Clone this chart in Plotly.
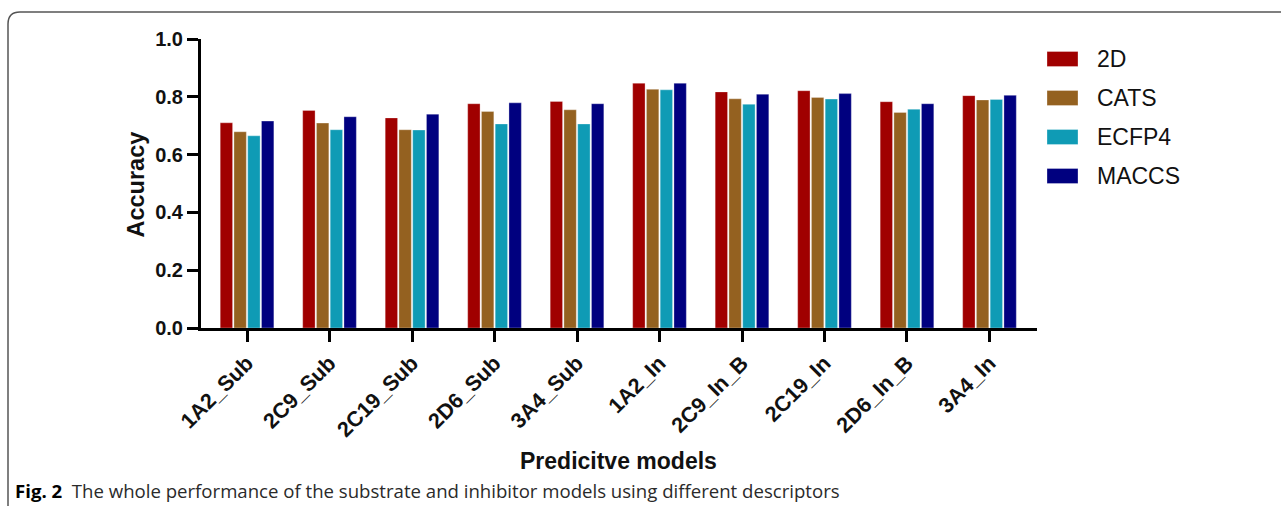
import plotly.graph_objects as go

categories = ["1A2_Sub", "2C9_Sub", "2C19_Sub", "2D6_Sub", "3A4_Sub",
              "1A2_In", "2C9_In_B", "2C19_In", "2D6_In_B", "3A4_In"]
series_names = ["2D", "CATS", "ECFP4", "MACCS"]
acc_2d = [0.710, 0.753, 0.727, 0.776, 0.784, 0.847, 0.817, 0.821, 0.783, 0.804]
acc_cats = [0.679, 0.709, 0.686, 0.749, 0.755, 0.826, 0.793, 0.798, 0.746, 0.789]
acc_ecfp4 = [0.665, 0.686, 0.685, 0.706, 0.706, 0.824, 0.774, 0.792, 0.757, 0.791]
acc_maccs = [0.716, 0.731, 0.740, 0.779, 0.776, 0.847, 0.809, 0.811, 0.776, 0.805]
series_values = [acc_2d, acc_cats, acc_ecfp4, acc_maccs]
colors = ["#A00000", "#946120", "#0F9BB5", "#00007F"]
y_ticks = [0.0, 0.2, 0.4, 0.6, 0.8, 1.0]

W, H = 1281, 506
L, R, T, B = 201, 1037, 39, 328


def px(X):
    return (X - L) / (R - L)


def py(Y):
    return (B - Y) / (B - T)


fig = go.Figure()
for name, vals, col in zip(series_names, series_values, colors):
    fig.add_trace(go.Bar(
        x=categories, y=vals, name=name,
        marker=dict(color=col, line=dict(color="rgba(255,255,255,0.5)", width=0.6)),
        showlegend=False,
    ))

shapes = []
annotations = []
FONT = "Liberation Sans, Arial, sans-serif"

# custom legend
row_y = [59, 98, 137, 176]
for name, col, ry in zip(series_names, colors, row_y):
    shapes.append(dict(type="rect", xref="paper", yref="paper",
                       x0=px(1047), x1=px(1078), y0=py(ry + 7.5), y1=py(ry - 7.5),
                       fillcolor=col, line=dict(width=0.5, color="rgba(255,255,255,0.6)")))
    annotations.append(dict(text=name, xref="paper", yref="paper", x=px(1095), y=py(ry),
                            xanchor="left", yanchor="middle", showarrow=False,
                            font=dict(family=FONT, size=23, color="#111")))

# frame with rounded top-left corner
x0, yt = px(8), py(12)
yb, xr = py(506), px(1281)
rx, ry_ = 12 / (R - L), 12 / (B - T)
shapes.append(dict(type="path", xref="paper", yref="paper",
                   path=f"M {x0},{yb} L {x0},{yt - ry_} Q {x0},{yt} {x0 + rx},{yt} L {xr},{yt}",
                   line=dict(color="#555555", width=1.5)))

annotations.append(dict(text="<b>Accuracy</b>", xref="paper", yref="paper",
                        x=px(135), y=py(184.5), textangle=-90, showarrow=False,
                        xanchor="center", yanchor="middle",
                        font=dict(family=FONT, size=23.5, color="#111")))
annotations.append(dict(text="<b>Predicitve models</b>", xref="paper", yref="paper",
                        x=px(618), y=py(461), showarrow=False,
                        xanchor="center", yanchor="middle",
                        font=dict(family=FONT, size=23, color="#111")))
annotations.append(dict(text="<b><span style='color:#000'>Fig. 2</span></b>  The whole performance of the substrate and inhibitor models using different descriptors",
                        xref="paper", yref="paper", x=px(13), y=py(490), showarrow=False,
                        xanchor="left", yanchor="middle",
                        font=dict(family="Open Sans, sans-serif", size=18.6, color="#2a2a2a")))

fig.update_layout(
    width=W, height=H,
    margin=dict(l=L, r=W - R, t=T, b=H - B),
    paper_bgcolor="white", plot_bgcolor="white",
    barmode="group", bargap=0.333, bargroupgap=0.1,
    shapes=shapes, annotations=annotations,
    showlegend=False,
)
fig.update_xaxes(range=[-0.558, 9.576], showline=True, linecolor="black", linewidth=3,
                 ticks="outside", ticklen=11, tickwidth=3, tickcolor="black",
                 tickangle=-45, showgrid=False, zeroline=False,
                 tickprefix="<b>", ticksuffix="</b>",
                 tickfont=dict(family=FONT, size=21.5, color="#111"))
fig.update_yaxes(range=[0, 1], tickvals=y_ticks, ticktext=[f"<b>{v:.1f}</b>" for v in y_ticks],
                 showline=True, linecolor="black", linewidth=3,
                 ticks="outside", ticklen=11, tickwidth=3, tickcolor="black",
                 showgrid=False, zeroline=False,
                 tickfont=dict(family=FONT, size=20, color="#111"))

fig.write_html("out.html", config={"displayModeBar": False},
               post_script="document.body.style.margin='0';document.body.style.overflow='hidden';")
